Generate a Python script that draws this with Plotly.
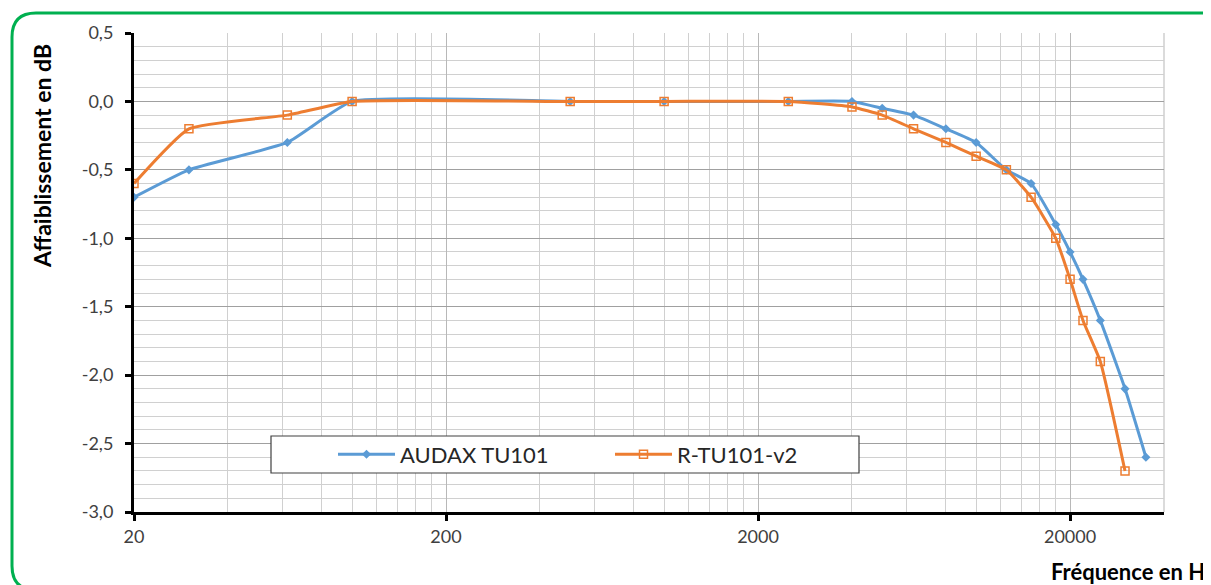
import plotly.graph_objects as go

# ---- data ----
freq_audax = [20, 30, 62, 100, 500, 1000, 2500, 4000, 5000, 6300, 8000, 10000,
              12500, 15000, 18000, 20000, 22000, 25000, 30000, 35000]
att_audax = [-0.7, -0.5, -0.3, 0.0, 0.0, 0.0, 0.0, 0.0, -0.05, -0.1, -0.2, -0.3,
             -0.5, -0.6, -0.9, -1.1, -1.3, -1.6, -2.1, -2.6]

freq_rtu = [20, 30, 62, 100, 500, 1000, 2500, 4000, 5000, 6300, 8000, 10000,
            12500, 15000, 18000, 20000, 22000, 25000, 30000]
att_rtu = [-0.6, -0.2, -0.1, 0.0, 0.0, 0.0, 0.0, -0.04, -0.1, -0.2, -0.3, -0.4,
           -0.5, -0.7, -1.0, -1.3, -1.6, -1.9, -2.7]

x_ticks = [20, 200, 2000, 20000]
x_ticktext = ["20", "200", "2000", "20000"]
x_minor = [d * k for d in x_ticks for k in range(2, 10)]

y_ticks = [0.5, 0.0, -0.5, -1.0, -1.5, -2.0, -2.5, -3.0]
y_ticktext = ["0,5", "0,0", "-0,5", "-1,0", "-1,5", "-2,0", "-2,5", "-3,0"]

name_audax = "AUDAX TU101"
name_rtu = "R-TU101-v2"
x_title = "Fréquence en Hz"
y_title = "Affaiblissement en dB"

# ---- layout geometry (reference pixel coords; page body has an 8px margin) ----
OFF = 8
W, H = 1211 - OFF, 585 - OFF
L, T = 134 - OFF, 33 - OFF
R = W - (1164 - OFF)
B = H - (512 - OFF)
PW, PH = W - L - R, H - T - B


def px(x):
    return (x - OFF - L) / PW


def py(y):
    return (H - B - (y - OFF)) / PH


FONT = "Lato"
BLUE = "#5B9BD5"
ORANGE = "#ED7D31"
TXT = "#404040"

fig = go.Figure()
fig.add_trace(go.Scatter(
    x=freq_audax, y=att_audax, name=name_audax, mode="lines+markers",
    line=dict(color=BLUE, width=3, shape="spline", smoothing=0.45),
    marker=dict(symbol="diamond", size=7, color=BLUE),
))
fig.add_trace(go.Scatter(
    x=freq_rtu, y=att_rtu, name=name_rtu, mode="lines+markers",
    line=dict(color=ORANGE, width=3, shape="spline", smoothing=0.45),
    marker=dict(symbol="square-open", size=8, color=ORANGE, line=dict(width=1.5, color=ORANGE)),
))

# rounded green frame
x0, y0, x1, y1, r = 12, 13, 1224, 590, 24
path = (f"M{px(x0 + r)},{py(y0)} L{px(x1 - r)},{py(y0)} "
        f"Q{px(x1)},{py(y0)} {px(x1)},{py(y0 + r)} "
        f"L{px(x1)},{py(y1 - r)} Q{px(x1)},{py(y1)} {px(x1 - r)},{py(y1)} "
        f"L{px(x0 + r)},{py(y1)} Q{px(x0)},{py(y1)} {px(x0)},{py(y1 - r)} "
        f"L{px(x0)},{py(y0 + r)} Q{px(x0)},{py(y0)} {px(x0 + r)},{py(y0)} Z")

shapes = [
    dict(type="path", xref="paper", yref="paper", path=path,
         line=dict(color="#00B050", width=3), layer="below"),
    # legend box
    dict(type="rect", xref="paper", yref="paper",
         x0=px(271), x1=px(859), y0=py(473), y1=py(436),
         fillcolor="white", line=dict(color="#404040", width=1.2), layer="above"),
    # right border of plot area
    dict(type="line", xref="paper", yref="paper", x0=1, x1=1, y0=0, y1=1,
         line=dict(color="#C8C8C8", width=1.3), layer="below"),
]

annotations = [
    dict(text=f"<b>{y_title}</b>", xref="paper", yref="paper",
         x=px(42), y=py(156), textangle=-90, showarrow=False,
         xanchor="center", yanchor="middle",
         font=dict(family=FONT, size=23, color="#000000")),
    dict(text=f"<b>{x_title}</b>", xref="paper", yref="paper",
         x=px(1049), y=py(571), showarrow=False,
         xanchor="left", yanchor="middle",
         font=dict(family=FONT, size=22, color="#000000")),
]

fig.update_layout(
    width=W, height=H,
    margin=dict(l=L, r=R, t=T, b=B, pad=0),
    paper_bgcolor="white", plot_bgcolor="white",
    font=dict(family=FONT, size=18, color=TXT),
    shapes=shapes, annotations=annotations,
    showlegend=True,
    legend=dict(
        orientation="h", x=px(333), y=py(454.5), xanchor="left", yanchor="middle",
        bgcolor="rgba(0,0,0,0)", borderwidth=0,
        font=dict(family=FONT, size=22, color="#262626"),
        itemwidth=57, entrywidth=205, entrywidthmode="pixels",
    ),
    xaxis=dict(
        type="log", range=[1.30103, 4.60206],
        tickmode="array", tickvals=x_ticks, ticktext=x_ticktext,
        ticks="outside", ticklen=6, tickwidth=3, tickcolor="black",
        showline=True, linecolor="black", linewidth=3,
        showgrid=True, gridcolor="#B8B8B8", gridwidth=1.3,
        minor=dict(tickmode="array", tickvals=x_minor, showgrid=True,
                   gridcolor="#D0D0D0", gridwidth=1.3, ticks=""),
        tickfont=dict(family=FONT, size=18, color=TXT),
        zeroline=False,
    ),
    yaxis=dict(
        range=[-3.0, 0.5],
        tickmode="array", tickvals=y_ticks, ticktext=y_ticktext,
        ticks="outside", ticklen=6, tickwidth=3, tickcolor="black",
        showline=True, linecolor="black", linewidth=3,
        showgrid=True, gridcolor="#A0A0A0", gridwidth=1.3,
        minor=dict(tick0=0, dtick=0.1, showgrid=True, gridcolor="#D0D0D0", gridwidth=1.3, ticks=""),
        tickfont=dict(family=FONT, size=18, color=TXT),
        ticklabelstandoff=8,
        zeroline=False,
    ),
)

fig.write_html("out.html")
